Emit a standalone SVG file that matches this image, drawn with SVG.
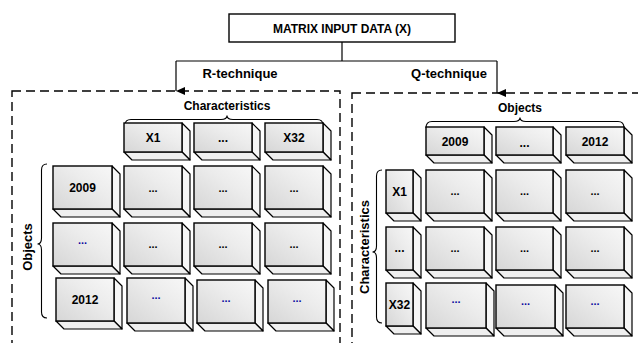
<svg xmlns="http://www.w3.org/2000/svg" width="638" height="343" viewBox="0 0 638 343">
<defs>
<linearGradient id="gf" x1="0" y1="1" x2="1" y2="0">
<stop offset="0" stop-color="#d6d6d6"/>
<stop offset="0.6" stop-color="#ececec"/>
<stop offset="1" stop-color="#f7f7f7"/>
</linearGradient>
<marker id="arr" markerWidth="10" markerHeight="10" refX="5" refY="9" orient="auto" markerUnits="userSpaceOnUse" viewBox="0 0 10 10">
<path d="M1,0 L5,9 L9,0 Z" fill="#000"/>
</marker>
<marker id="arrd" markerWidth="10" markerHeight="10" refX="9" refY="5" orient="auto" markerUnits="userSpaceOnUse" viewBox="0 0 10 10">
<path d="M0,1 L9,5 L0,9 Z" fill="#000"/>
</marker>
</defs>
<style>
text{font-family:"Liberation Sans",Arial,sans-serif;font-weight:bold;fill:#000;text-anchor:middle}
.t12{font-size:12px}
.t13{font-size:13px}
.dots{font-size:11px}
.blue{fill:#0a0aa0}
.front{fill:url(#gf);stroke:#000;stroke-width:1.4}
.side{fill:#f6f6f6;stroke:#000;stroke-width:1.2;stroke-linejoin:round}
.bot{fill:#efefef;stroke:#000;stroke-width:1.2;stroke-linejoin:round}
.dash{fill:none;stroke:#000;stroke-width:1.4;stroke-dasharray:9,5}
.line{fill:none;stroke:#000;stroke-width:1.2}
.brace{fill:none;stroke:#000;stroke-width:1.1}
.title{fill:#fff;stroke:#000;stroke-width:1.4}
</style>

<!-- panels -->
<g id="panel-r">
<rect class="dash" x="12" y="91" width="328" height="270"/>
</g>
<g id="panel-q">
<rect class="dash" x="352" y="93" width="300" height="270"/>
</g>

<!-- title -->
<g id="title">
<rect class="title" x="229" y="14" width="226" height="28"/>
<text class="t12" x="342" y="32.5">MATRIX INPUT DATA (X)</text>
</g>

<!-- connectors -->
<g id="connectors">
<path class="line" d="M342,42 L342,61 M176,61 L497,61"/>
<path class="line" d="M176,61 L176,91" marker-end="url(#arr)"/>
<path class="line" d="M497,61 L497,93" marker-end="url(#arr)"/>
<text class="t13" x="240" y="78">R-technique</text>
<text class="t13" x="449" y="78">Q-technique</text>
</g>

<!-- braces and axis labels -->
<g id="labels">
<text class="t12" x="227" y="110">Characteristics</text>
<path class="brace" d="M125,125 Q125,119.5 131,119.5 L221,119.5 Q227,119.5 227,115.5 Q227,119.5 233,119.5 L317,119.5 Q323,119.5 323,125"/>
<path class="brace" d="M47,164 Q41.5,164 41.5,170 L41.5,238 Q41.5,244 37.5,244 Q41.5,244 41.5,250 L41.5,312 Q41.5,318 47,318"/>
<text class="t13" transform="translate(32,247) rotate(-90)">Objects</text>

<text class="t12" x="520" y="112">Objects</text>
<path class="brace" d="M426,128 Q426,121.5 432,121.5 L514,121.5 Q520,121.5 520,117.5 Q520,121.5 526,121.5 L618,121.5 Q624,121.5 624,128"/>
<path class="brace" d="M382,170 Q376.5,170 376.5,176 L376.5,246 Q376.5,252 372.5,252 Q376.5,252 376.5,258 L376.5,317 Q376.5,323 382,323"/>
<text class="t13" transform="translate(369,247) rotate(-90)">Characteristics</text>
</g>

<!-- R-technique boxes -->
<g id="r-h1"><path class="side" d="M182,123 L190,131 L190,160 L182,152 Z"/><path class="bot" d="M124,152 L182,152 L190,160 L132,160 Z"/><rect class="front" x="124" y="123" width="58" height="29"/><text class="t12" x="153" y="142">X1</text></g>
<g id="r-h2"><path class="side" d="M252,123 L260,131 L260,160 L252,152 Z"/><path class="bot" d="M194,152 L252,152 L260,160 L202,160 Z"/><rect class="front" x="194" y="123" width="58" height="29"/><text class="t12" x="223" y="142">...</text></g>
<g id="r-h3"><path class="side" d="M323,123 L331,131 L331,160 L323,152 Z"/><path class="bot" d="M265,152 L323,152 L331,160 L273,160 Z"/><rect class="front" x="265" y="123" width="58" height="29"/><text class="t12" x="294" y="142">X32</text></g>

<g id="r-r1"><path class="side" d="M112,166 L120,174 L120,217 L112,209 Z"/><path class="bot" d="M53,209 L112,209 L120,217 L61,217 Z"/><rect class="front" x="53" y="166" width="59" height="43"/><text class="t12" x="82.5" y="192">2009</text></g>
<g id="r-c11"><path class="side" d="M182,166 L190,174 L190,217 L182,209 Z"/><path class="bot" d="M124,209 L182,209 L190,217 L132,217 Z"/><rect class="front" x="124" y="166" width="58" height="43"/><text class="dots" x="153" y="192">...</text></g>
<g id="r-c12"><path class="side" d="M252,166 L260,174 L260,217 L252,209 Z"/><path class="bot" d="M194,209 L252,209 L260,217 L202,217 Z"/><rect class="front" x="194" y="166" width="58" height="43"/><text class="dots" x="223" y="192">...</text></g>
<g id="r-c13"><path class="side" d="M323,166 L331,174 L331,217 L323,209 Z"/><path class="bot" d="M265,209 L323,209 L331,217 L273,217 Z"/><rect class="front" x="265" y="166" width="58" height="43"/><text class="dots" x="294" y="192">...</text></g>

<g id="r-r2"><path class="side" d="M112,223 L120,231 L120,274 L112,266 Z"/><path class="bot" d="M53,266 L112,266 L120,274 L61,274 Z"/><rect class="front" x="53" y="223" width="59" height="43"/><text class="dots blue" x="82.5" y="244">...</text></g>
<g id="r-c21"><path class="side" d="M182,223 L190,231 L190,274 L182,266 Z"/><path class="bot" d="M124,266 L182,266 L190,274 L132,274 Z"/><rect class="front" x="124" y="223" width="58" height="43"/><text class="dots" x="153" y="248">...</text></g>
<g id="r-c22"><path class="side" d="M252,223 L260,231 L260,274 L252,266 Z"/><path class="bot" d="M194,266 L252,266 L260,274 L202,274 Z"/><rect class="front" x="194" y="223" width="58" height="43"/><text class="dots" x="223" y="248">...</text></g>
<g id="r-c23"><path class="side" d="M323,223 L331,231 L331,274 L323,266 Z"/><path class="bot" d="M265,266 L323,266 L331,274 L273,274 Z"/><rect class="front" x="265" y="223" width="58" height="43"/><text class="dots" x="294" y="248">...</text></g>

<g id="r-r3"><path class="side" d="M114,278 L122,286 L122,329 L114,321 Z"/><path class="bot" d="M56,321 L114,321 L122,329 L64,329 Z"/><rect class="front" x="56" y="278" width="58" height="43"/><text class="t12" x="85" y="304">2012</text></g>
<g id="r-c31"><path class="side" d="M185,278 L193,286 L193,331 L185,323 Z"/><path class="bot" d="M127,323 L185,323 L193,331 L135,331 Z"/><rect class="front" x="127" y="278" width="58" height="45"/><text class="dots blue" x="156" y="299">...</text></g>
<g id="r-c32"><path class="side" d="M255,280 L263,288 L263,331 L255,323 Z"/><path class="bot" d="M197,323 L255,323 L263,331 L205,331 Z"/><rect class="front" x="197" y="280" width="58" height="43"/><text class="dots blue" x="226" y="302">...</text></g>
<g id="r-c33"><path class="side" d="M326,280 L334,288 L334,331 L326,323 Z"/><path class="bot" d="M268,323 L326,323 L334,331 L276,331 Z"/><rect class="front" x="268" y="280" width="58" height="43"/><text class="dots blue" x="297" y="302">...</text></g>

<!-- Q-technique boxes -->
<g id="q-h1"><path class="side" d="M484,127 L492,135 L492,163 L484,155 Z"/><path class="bot" d="M426,155 L484,155 L492,163 L434,163 Z"/><rect class="front" x="426" y="127" width="58" height="28"/><text class="t12" x="455" y="145.5">2009</text></g>
<g id="q-h2"><path class="side" d="M553,127 L561,135 L561,163 L553,155 Z"/><path class="bot" d="M496,155 L553,155 L561,163 L504,163 Z"/><rect class="front" x="496" y="127" width="57" height="28"/><text class="t12" x="524.5" y="147">...</text></g>
<g id="q-h3"><path class="side" d="M624,127 L632,135 L632,163 L624,155 Z"/><path class="bot" d="M566,155 L624,155 L632,163 L574,163 Z"/><rect class="front" x="566" y="127" width="58" height="28"/><text class="t12" x="595" y="145.5">2012</text></g>

<g id="q-r1"><path class="side" d="M413,170 L421,178 L421,221 L413,213 Z"/><path class="bot" d="M386,213 L413,213 L421,221 L394,221 Z"/><rect class="front" x="386" y="170" width="27" height="43"/><text class="t12" x="399.5" y="196">X1</text></g>
<g id="q-c11"><path class="side" d="M484,170 L492,178 L492,221 L484,213 Z"/><path class="bot" d="M426,213 L484,213 L492,221 L434,221 Z"/><rect class="front" x="426" y="170" width="58" height="43"/><text class="dots" x="455" y="195">...</text></g>
<g id="q-c12"><path class="side" d="M553,170 L561,178 L561,221 L553,213 Z"/><path class="bot" d="M496,213 L553,213 L561,221 L504,221 Z"/><rect class="front" x="496" y="170" width="57" height="43"/><text class="dots" x="524.5" y="195">...</text></g>
<g id="q-c13"><path class="side" d="M624,170 L632,178 L632,221 L624,213 Z"/><path class="bot" d="M566,213 L624,213 L632,221 L574,221 Z"/><rect class="front" x="566" y="170" width="58" height="43"/><text class="dots" x="595" y="195">...</text></g>

<g id="q-r2"><path class="side" d="M413,227 L421,235 L421,278 L413,270 Z"/><path class="bot" d="M386,270 L413,270 L421,278 L394,278 Z"/><rect class="front" x="386" y="227" width="27" height="43"/><text class="t12" x="399.5" y="252">...</text></g>
<g id="q-c21"><path class="side" d="M484,227 L492,235 L492,278 L484,270 Z"/><path class="bot" d="M426,270 L484,270 L492,278 L434,278 Z"/><rect class="front" x="426" y="227" width="58" height="43"/><text class="dots" x="455" y="252">...</text></g>
<g id="q-c22"><path class="side" d="M553,227 L561,235 L561,278 L553,270 Z"/><path class="bot" d="M496,270 L553,270 L561,278 L504,278 Z"/><rect class="front" x="496" y="227" width="57" height="43"/><text class="dots" x="524.5" y="252">...</text></g>
<g id="q-c23"><path class="side" d="M624,227 L632,235 L632,278 L624,270 Z"/><path class="bot" d="M566,270 L624,270 L632,278 L574,278 Z"/><rect class="front" x="566" y="227" width="58" height="43"/><text class="dots" x="595" y="252">...</text></g>

<g id="q-r3"><path class="side" d="M413,283 L421,291 L421,334 L413,326 Z"/><path class="bot" d="M386,326 L413,326 L421,334 L394,334 Z"/><rect class="front" x="386" y="283" width="27" height="43"/><text class="t12" x="399.5" y="309">X32</text></g>
<g id="q-c31"><path class="side" d="M486,283 L494,291 L494,336 L486,328 Z"/><path class="bot" d="M426,328 L486,328 L494,336 L434,336 Z"/><rect class="front" x="426" y="283" width="60" height="45"/><text class="dots blue" x="456" y="303">...</text></g>
<g id="q-c32"><path class="side" d="M555,285 L563,293 L563,336 L555,328 Z"/><path class="bot" d="M496,328 L555,328 L563,336 L504,336 Z"/><rect class="front" x="496" y="285" width="59" height="43"/><text class="dots blue" x="525.5" y="305">...</text></g>
<g id="q-c33"><path class="side" d="M624,285 L632,293 L632,336 L624,328 Z"/><path class="bot" d="M566,328 L624,328 L632,336 L574,336 Z"/><rect class="front" x="566" y="285" width="58" height="43"/><text class="dots blue" x="595" y="305">...</text></g>
</svg>
